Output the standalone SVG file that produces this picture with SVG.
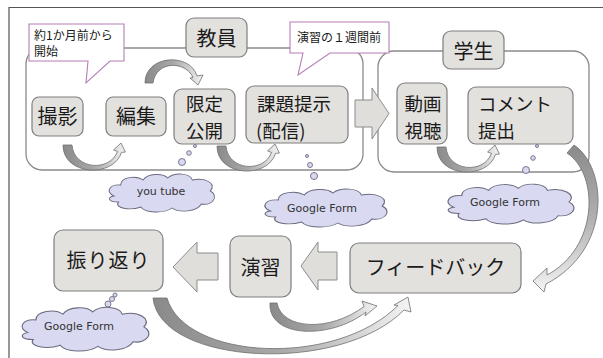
<svg xmlns="http://www.w3.org/2000/svg" xmlns:xlink="http://www.w3.org/1999/xlink" width="603" height="358" viewBox="0 0 603 358">
<style>
.grp{fill:#ffffff;stroke:#8a8a8a;stroke-width:1.3}
.node{fill:#e3e1de;stroke:#7f7f7f;stroke-width:1.2}
.blk{fill:#e0dedb;stroke:#8c8c8c;stroke-width:1}
.call{fill:#ffffff;stroke:#b77db7;stroke-width:1.1}
.cloud{fill:#d9d9f2;stroke:#6b6b80;stroke-width:0.9}
.carr{fill:url(#gh);stroke:#6e6e6e;stroke-width:0.8}
.jp{font-family:"Noto Sans CJK JP","Noto Sans",sans-serif;fill:#1a1a1a}
.t20{font-size:20px}
.t19{font-size:18.5px}
.t12{font-size:12px}
.en{font-family:"DejaVu Sans","Liberation Sans",sans-serif;font-size:11px;fill:#333;text-anchor:middle}
.mid{text-anchor:middle}
</style>
<defs>
<linearGradient id="gh" x1="0" y1="0" x2="1" y2="0">
<stop offset="0" stop-color="#8a8a8a"/>
<stop offset="0.5" stop-color="#a9a9a9"/>
<stop offset="1" stop-color="#f4f4f4"/>
</linearGradient>
<linearGradient id="gv" x1="0" y1="0" x2="0" y2="1">
<stop offset="0" stop-color="#8a8a8a"/>
<stop offset="0.5" stop-color="#b0b0b0"/>
<stop offset="1" stop-color="#f4f4f4"/>
</linearGradient>
<path id="uarrow" class="carr" d="M0,0 C0,31 51,33 58.5,7.3 L62.4,7.1 L58,-2 L50.6,4.9 L54.5,6.5 C47,27 11,25 9,0 Z"/>
<path id="cloudshape" d="M8,24 C0,20 4,12 14,13 C14,5 28,3 34,8 C38,1 52,1 56,6 C62,0 76,1 78,8 C90,5 100,12 94,19 C102,24 96,34 86,32 C82,40 66,41 60,36 C52,42 36,41 32,35 C22,39 8,36 12,30 C2,30 2,25 8,24 Z"/>
</defs>

<path d="M9,358 V7.5 H603" fill="none" stroke="#555555" stroke-width="1.2"/>

<g id="teacher-group">
<rect class="grp" x="26" y="48" width="337" height="122" rx="16"/>
</g>
<g id="student-group">
<rect class="grp" x="378" y="51" width="211" height="121" rx="16"/>
</g>

<g id="callout-1">
<path class="call" d="M29,24 H124 V61 H110 L86,83 L88,61 H29 Z"/>
<text class="jp t12" x="34" y="40">約1か月前から</text>
<text class="jp t12" x="34" y="56">開始</text>
</g>
<g id="callout-2">
<path class="call" d="M290,22 H389 V53 H330 L298,75 L303,53 H290 Z"/>
<text class="jp t12" x="297" y="42">演習の１週間前</text>
</g>

<g id="label-teacher">
<rect class="node" x="186" y="18" width="61" height="39" rx="8"/>
<text class="jp t20 mid" x="216.5" y="46">教員</text>
</g>
<g id="label-student">
<rect class="node" x="443" y="31" width="61" height="38" rx="8"/>
<text class="jp t20 mid" x="473.5" y="59">学生</text>
</g>

<g id="node-satsuei">
<rect class="node" x="32" y="97" width="51" height="39" rx="7"/>
<text class="jp t20 mid" x="57.5" y="124">撮影</text>
</g>
<g id="node-henshu">
<rect class="node" x="106" y="97" width="60" height="39" rx="7"/>
<text class="jp t20 mid" x="136" y="124">編集</text>
</g>
<g id="node-gentei">
<rect class="node" x="174" y="89" width="61" height="55" rx="8"/>
<text class="jp t19 mid" x="204.5" y="111">限定</text>
<text class="jp t19 mid" x="204.5" y="138">公開</text>
</g>
<g id="node-kadai">
<rect class="node" x="246" y="86" width="102" height="57" rx="8"/>
<text class="jp t19" x="257" y="111">課題提示</text>
<text class="jp t19" x="256" y="138">(配信)</text>
</g>
<g id="node-douga">
<rect class="node" x="397" y="83" width="50" height="61" rx="8"/>
<text class="jp t19 mid" x="423" y="111">動画</text>
<text class="jp t19 mid" x="423" y="138">視聴</text>
</g>
<g id="node-comment">
<rect class="node" x="468" y="87" width="105" height="57" rx="8"/>
<text class="jp t19" x="478" y="111">コメント</text>
<text class="jp t19" x="478" y="138">提出</text>
</g>
<g id="node-furikaeri">
<rect class="node" x="54" y="230" width="109" height="61" rx="9"/>
<text class="jp t20 mid" x="108.5" y="268" letter-spacing="1">振り返り</text>
</g>
<g id="node-enshu">
<rect class="node" x="230" y="236" width="61" height="61" rx="9"/>
<text class="jp t20 mid" x="260.5" y="275">演習</text>
</g>
<g id="node-feedback">
<rect class="node" x="350" y="243" width="171" height="50" rx="9"/>
<text class="jp t20 mid" x="435.5" y="275">フィードバック</text>
</g>

<g id="connectors">
<polygon class="blk" points="355,100 372,100 372,88 389,113.5 372,139 372,127 355,127"/>
<polygon class="blk" points="337,252 318,252 318,242 301,266 318,290 318,280 337,280"/>
<polygon class="blk" points="218,253 197,253 197,242 173,267 197,292 197,280 218,280"/>
<use xlink:href="#uarrow" href="#uarrow" transform="translate(63,145)"/>
<use xlink:href="#uarrow" href="#uarrow" transform="translate(217,146)"/>
<use xlink:href="#uarrow" href="#uarrow" transform="translate(437,147)"/>
<path class="carr" d="M145,83 C145,55 190,52 197,76 L203,75 L198,85 L190,78 L193,77.5 C186,61 156,60 153,83 Z"/>
<path class="carr" style="fill:url(#gv)" d="M574,145 C608,168 612,250 546,284 L544,292 L533,281 L547,268 L547,275 C598,248 600,175 567,153 Z"/>
<path class="carr" d="M270,303 C268,338 330,340 366,312 L365,316 L377,306 L362,301 L364,306.5 C330,332 282,330 277,303 Z"/>
<path class="carr" d="M153,298 C160,365 340,375 404,310 L411,312 L408,297 L394,305 L398,305.5 C335,368 185,360 167,298 Z"/>
</g>

<g id="cloud-youtube">
<circle class="cloud" cx="195" cy="146" r="1.5"/>
<circle class="cloud" cx="189" cy="153" r="2.3"/>
<circle class="cloud" cx="182" cy="162" r="3.5"/>
<use xlink:href="#cloudshape" href="#cloudshape" class="cloud" transform="translate(105,172) scale(1.12,1.0)"/>
<text class="en" x="161" y="195">you tube</text>
</g>
<g id="cloud-gform-1">
<circle class="cloud" cx="307" cy="156" r="1.5"/>
<circle class="cloud" cx="310" cy="165" r="2.5"/>
<circle class="cloud" cx="314" cy="176" r="3.5"/>
<use xlink:href="#cloudshape" href="#cloudshape" class="cloud" transform="translate(260,187) scale(1.30,1.0)"/>
<text class="en" x="322" y="212">Google Form</text>
</g>
<g id="cloud-gform-2">
<circle class="cloud" cx="537" cy="146" r="1.5"/>
<circle class="cloud" cx="533" cy="158" r="2.3"/>
<circle class="cloud" cx="526" cy="170" r="3.5"/>
<use xlink:href="#cloudshape" href="#cloudshape" class="cloud" transform="translate(443,182) scale(1.34,1.05)"/>
<text class="en" x="505" y="206">Google Form</text>
</g>
<g id="cloud-gform-3">
<circle class="cloud" cx="115" cy="295" r="2"/>
<circle class="cloud" cx="112" cy="299" r="2.5"/>
<circle class="cloud" cx="108" cy="304" r="3"/>
<use xlink:href="#cloudshape" href="#cloudshape" class="cloud" transform="translate(17,305) scale(1.35,1.15)"/>
<text class="en" x="79" y="330">Google Form</text>
</g>
</svg>
